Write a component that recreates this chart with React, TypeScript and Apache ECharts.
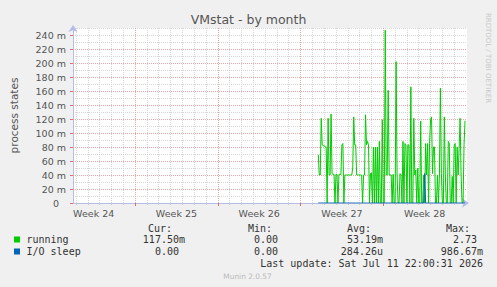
import { useEffect, useRef } from 'react';
import * as echarts from 'echarts';

// ---- data ----
// one slot = 2 hours = 1 pixel of the original 400px rrd graph
const slotCount = 401;
const dataStartSlot = 249;
const firstDaySlot = 3;
const slotsPerDay = 12;
const firstWeekSlot = 63;
const slotsPerWeek = 84;
const lastGridSlot = 398;
const firstWeekLabelSlot = 21;
const weekLabels = ['Week 24', 'Week 25', 'Week 26', 'Week 27', 'Week 28'];
const yTickValues = [0, 20, 40, 60, 80, 100, 120, 140, 160, 180, 200, 220, 240];

// values in milli (m) units
const runningValues = [
  69, 40, 40, 121, 83, 82, 82, 80, 80, 0,
  121, 40, 40, 127, 42, 41, 41, 0, 41, 41,
  0, 41, 41, 41, 83, 85, 0, 40, 40, 40,
  40, 40, 40, 40, 40, 50, 123, 83, 83, 40,
  40, 40, 40, 40, 40, 0, 40, 40, 126, 83,
  88, 83, 0, 42, 43, 0, 80, 0, 80, 0,
  80, 0, 88, 0, 0, 119, 0, 0, 247, 40,
  40, 161, 40, 40, 40, 0, 41, 0, 0, 202,
  40, 0, 0, 42, 40, 0, 88, 0, 85, 83,
  0, 83, 83, 0, 166, 0, 0, 121, 40, 47,
  0, 50, 0, 0, 117, 0, 0, 40, 0, 85,
  40, 85, 0, 85, 119, 123, 42, 80, 80, 0,
  0, 40, 0, 40, 164, 42, 0, 0, 123, 40,
  0, 0, 88, 85, 0, 0, 38, 0, 83, 85,
  0, 80, 40, 78, 121, 40, 0, 0, 83, 117.5,
];
const ioSleepValues = [
  0, 0, 0, 0, 0, 0, 0, 0, 0, 0,
  0, 0, 0, 0, 0, 0, 0, 0, 0, 0,
  0, 0, 0, 0, 0, 0, 0, 0, 0, 0,
  0, 0, 0, 0, 0, 0, 0, 0, 0, 0,
  0, 0, 0, 0, 0, 0, 0, 0, 0, 0,
  0, 0, 0, 0, 0, 0, 0, 0, 0, 0,
  0, 0, 0, 0, 0, 0, 0, 0, 0, 0,
  0, 0, 0, 0, 0, 0, 0, 0, 0, 0,
  0, 0, 0, 0, 0, 0, 0, 0, 0, 0,
  0, 0, 0, 0, 0, 0, 0, 0, 0, 0,
  0, 0, 0, 0, 0, 0, 0, 0, 42, 0,
  0, 0, 0, 0, 0, 0, 0, 0, 0, 0,
  0, 0, 0, 0, 0, 0, 0, 0, 0, 0,
  0, 0, 0, 0, 0, 0, 0, 0, 0, 0,
  0, 0, 0, 0, 0, 0, 0, 0, 0, 0,
];

const seriesNames = ['running', 'I/O sleep'];
const seriesColors = ['#00cc00', '#0066b3'];
const legendHeaders = ['Cur:', 'Min:', 'Avg:', 'Max:'];
const runningStats = ['117.50m', '0.00 ', '53.19m', '2.73 '];
const ioSleepStats = ['0.00 ', '0.00 ', '284.26u', '986.67m'];
const lastUpdate = 'Last update: Sat Jul 11 22:00:31 2026';
const titleText = 'VMstat - by month';
const yAxisName = 'process states';
const watermark = 'RRDTOOL / TOBI OETIKER';
const footer = 'Munin 2.0.57';

const SANS = 'DejaVu Sans';
const MONO = 'DejaVu Sans Mono';

function toSlots(values: number[]) {
  const arr: (number | null)[] = new Array(slotCount).fill(null);
  values.forEach((v, i) => {
    arr[dataStartSlot + i] = v;
  });
  return arr;
}

export default function App() {
  const ref = useRef<HTMLDivElement>(null);

  useEffect(() => {
    if (!ref.current) return;
    const chart = echarts.init(ref.current, null, { renderer: 'svg' });
    const slots = Array.from({ length: slotCount }, (_, i) => String(i));
    const isDay = (i: number) =>
      i >= firstDaySlot && i <= lastGridSlot && (i - firstDaySlot) % slotsPerDay === 0;
    const isWeek = (i: number) =>
      i >= firstWeekSlot && i <= lastGridSlot && (i - firstWeekSlot) % slotsPerWeek === 0;
    const isWeekLabel = (i: number) =>
      i >= firstWeekLabelSlot && (i - firstWeekLabelSlot) % slotsPerWeek === 0;

    const gray = '#d6d6d6';
    const red = '#e8a8a8';
    const axisBlue = '#b4bce8';
    const textCol = '#555';
    const legendCol = '#333';

    const colEnds = [185, 284, 383, 483];
    const headerEnds = [172, 272, 371, 470];

    const graphic: any[] = [
      {
        type: 'text', left: 'center', top: 13,
        style: { text: titleText, font: `12.5px "${SANS}"`, fill: textCol },
      },
      {
        type: 'text', x: 488, y: 58, rotation: -Math.PI / 2,
        style: { text: watermark, font: `7px "${SANS}"`, fill: '#c8c8c8', align: 'center', verticalAlign: 'middle' },
      },
      {
        type: 'text', x: 247.5, y: 276,
        style: { text: footer, font: `7.4px "${SANS}"`, fill: '#bbb', align: 'center', verticalAlign: 'middle' },
      },
      {
        type: 'text', x: 483, y: 263.5,
        style: { text: lastUpdate, font: `10px "${MONO}"`, fill: legendCol, align: 'right', verticalAlign: 'middle' },
      },
    ];
    legendHeaders.forEach((h, i) => {
      graphic.push({
        type: 'text', x: headerEnds[i], y: 228,
        style: { text: h, font: `10px "${MONO}"`, fill: legendCol, align: 'right', verticalAlign: 'middle' },
      });
    });
    [runningStats, ioSleepStats].forEach((stats, r) => {
      const y = 239.5 + r * 12;
      graphic.push({
        type: 'rect', shape: { x: 14, y: y - 3, width: 6, height: 6 },
        style: { fill: seriesColors[r] },
      });
      graphic.push({
        type: 'text', x: 26.5, y,
        style: { text: seriesNames[r], font: `10px "${MONO}"`, fill: legendCol, align: 'left', verticalAlign: 'middle' },
      });
      stats.forEach((s, i) => {
        graphic.push({
          type: 'text', x: colEnds[i], y,
          style: { text: s, font: `10px "${MONO}"`, fill: legendCol, align: 'right', verticalAlign: 'middle' },
        });
      });
    });

    chart.setOption({
      animation: false,
      backgroundColor: '#f0f0f0',
      grid: {
        left: 67, top: 28, width: 400, height: 175,
        show: true, backgroundColor: '#ffffff', borderWidth: 0,
      },
      xAxis: [
        {
          type: 'category', data: slots, boundaryGap: false, position: 'bottom', z: 0,
          axisLine: {
            show: true, onZero: false,
            lineStyle: { color: axisBlue, width: 1 },
            symbol: ['none', 'arrow'], symbolSize: [7, 7], symbolOffset: [0, 2],
          },
          axisTick: { show: true, interval: (i: number) => isDay(i), length: 2, lineStyle: { color: '#c8c8c8' } },
          axisLabel: {
            show: true, interval: (i: number) => isWeekLabel(i), margin: 5,
            formatter: (_v: string, i: number) => weekLabels[(i - firstWeekLabelSlot) / slotsPerWeek] ?? '',
            fontFamily: SANS, fontSize: 9.5, color: textCol,
          },
          splitLine: { show: true, interval: (i: number) => isDay(i), lineStyle: { color: gray, type: [1, 1], width: 1 } },
        },
        {
          type: 'category', data: slots, boundaryGap: false, position: 'bottom', z: 1,
          axisLine: { show: false },
          axisTick: { show: true, interval: (i: number) => isWeek(i), length: 3, lineStyle: { color: '#e07070' } },
          axisLabel: { show: false },
          splitLine: { show: true, interval: (i: number) => isWeek(i), lineStyle: { color: red, type: [1, 1], width: 1 } },
        },
      ],
      yAxis: [
        {
          type: 'value', min: 0, max: 250, interval: 10, position: 'left', z: 0,
          axisLine: {
            show: true, onZero: false,
            lineStyle: { color: axisBlue, width: 1 },
            symbol: ['none', 'arrow'], symbolSize: [7, 7], symbolOffset: [0, 3],
          },
          axisTick: { show: false },
          axisLabel: { show: false },
          splitLine: { show: true, lineStyle: { color: gray, type: [1, 1], width: 1 } },
          name: yAxisName, nameLocation: 'middle', nameGap: 54, nameRotate: 90,
          nameTextStyle: { fontFamily: SANS, fontSize: 10.5, color: textCol },
        },
        {
          type: 'value', min: 0, max: 250, interval: 20, position: 'left', z: 1,
          axisLine: { show: false },
          axisTick: { show: true, customValues: yTickValues, length: 3, lineStyle: { color: '#e07070' } },
          axisLabel: {
            show: true, customValues: yTickValues, margin: 7,
            formatter: (v: number) => (v === 0 ? '{z|0}' : `${v} m`),
            fontFamily: SANS, fontSize: 9.5, color: textCol,
            rich: { z: { fontFamily: SANS, fontSize: 9.5, color: textCol, padding: [0, 7, 0, 0] } },
          },
          splitLine: { show: true, showMaxLine: false, showMinLine: false, lineStyle: { color: red, type: [1, 1], width: 1 } },
        },
      ],
      series: [
        {
          name: seriesNames[0], type: 'line', xAxisIndex: 0, yAxisIndex: 0,
          data: toSlots(runningValues), showSymbol: false, connectNulls: false,
          lineStyle: { color: seriesColors[0], width: 1 }, itemStyle: { color: seriesColors[0] },
          z: 3,
        },
        {
          name: seriesNames[1], type: 'line', xAxisIndex: 0, yAxisIndex: 0,
          data: toSlots(ioSleepValues), showSymbol: false, connectNulls: false,
          lineStyle: { color: seriesColors[1], width: 1 }, itemStyle: { color: seriesColors[1] },
          z: 4,
        },
      ],
      graphic,
    });
    return () => chart.dispose();
  }, []);

  return (
    <div
      ref={ref}
      style={{ position: 'absolute', left: 0, top: 0, width: 497, height: 287, background: '#f0f0f0' }}
    />
  );
}
